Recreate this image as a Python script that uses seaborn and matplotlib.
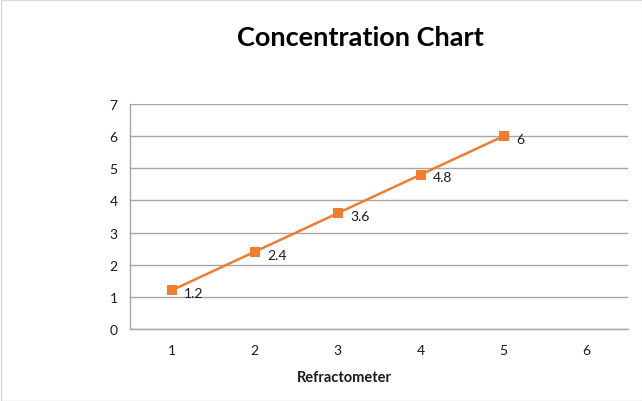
import matplotlib
matplotlib.use("Agg")
import matplotlib.pyplot as plt
import seaborn as sns
import pandas as pd
import numpy as np
from matplotlib.patches import Rectangle

categories = ["1", "2", "3", "4", "5", "6"]
values = [1.2, 2.4, 3.6, 4.8, 6.0, np.nan]
labels = ["1.2", "2.4", "3.6", "4.8", "6", ""]
yticks = [0, 1, 2, 3, 4, 5, 6, 7]

sns.set_style("white")
plt.rcParams['font.family'] = ['Lato', 'DejaVu Sans']

df = pd.DataFrame({"pos": np.arange(len(categories)), "val": values})

fig = plt.figure(figsize=(6.42, 4.02), dpi=100)
ax = fig.add_axes([130/642, 1-330/402, (628-130)/642, (330-105)/402])

sns.lineplot(data=df, x="pos", y="val", ax=ax, color="#ED7D31", linewidth=1.8,
             marker="s", markersize=6.5, markeredgewidth=0, markerfacecolor="#ED7D31")

for i, (v, lab) in enumerate(zip(values, labels)):
    if not np.isnan(v):
        ax.annotate(lab, (i, v), xytext=(9, -2), textcoords="offset points",
                    ha="left", va="center", fontsize=10, color="#1a1a1a")

ax.set_xlim(-0.5, len(categories) - 0.5)
ax.set_ylim(0, 7)
ax.set_yticks(yticks)
ax.set_yticklabels([str(t) for t in yticks], fontsize=10, color="#1a1a1a")
ax.yaxis.grid(True, color="#A6A6A6", linewidth=1)
ax.set_axisbelow(True)

ax.set_xticks(np.arange(-0.5, len(categories)))
ax.set_xticklabels([])
ax.set_xticks(np.arange(len(categories)), minor=True)
ax.set_xticklabels(categories, minor=True, fontsize=10, color="#1a1a1a")
ax.tick_params(axis="x", which="major", direction="out", length=4, color="#A6A6A6", width=1)
ax.tick_params(axis="x", which="minor", length=0, pad=11)
ax.tick_params(axis="y", direction="out", length=5, color="#A6A6A6", width=1, pad=4)

for s in ["top", "right"]:
    ax.spines[s].set_visible(False)
for s in ["left", "bottom"]:
    ax.spines[s].set_color("#A6A6A6")
    ax.spines[s].set_linewidth(1)

ax.set_xlabel("")
ax.set_ylabel("")

fig.text(360/642, 1-38/402, "Concentration Chart", ha="center", va="center",
         fontsize=19.5, fontweight="bold", color="black")
fig.text(344/642, 1-378/402, "Refractometer", ha="center", va="center",
         fontsize=10.5, fontweight="bold", color="#1a1a1a")

fig.patches.append(Rectangle((0.5/642, 0.5/402), 1-1/642, 1-1/402, transform=fig.transFigure,
                             fill=False, edgecolor="#D9D9D9", linewidth=1))

fig.savefig("out.png", dpi=100)
